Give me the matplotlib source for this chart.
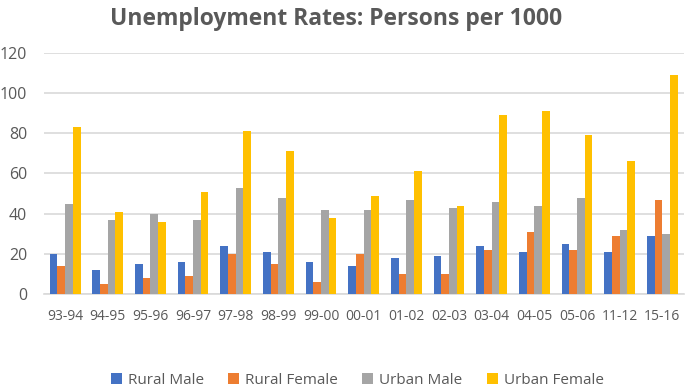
import matplotlib
matplotlib.use("Agg")
import matplotlib.pyplot as plt
import numpy as np

categories = ["93-94", "94-95", "95-96", "96-97", "97-98", "98-99", "99-00", "00-01",
              "01-02", "02-03", "03-04", "04-05", "05-06", "11-12", "15-16"]
rural_male = [20, 12, 15, 16, 24, 21, 16, 14, 18, 19, 24, 21, 25, 21, 29]
rural_female = [14, 5, 8, 9, 20, 15, 6, 20, 10, 10, 22, 31, 22, 29, 47]
urban_male = [45, 37, 40, 37, 53, 48, 42, 42, 47, 43, 46, 44, 48, 32, 30]
urban_female = [83, 41, 36, 51, 81, 71, 38, 49, 61, 44, 89, 91, 79, 66, 109]
series_names = ["Rural Male", "Rural Female", "Urban Male", "Urban Female"]
colors = ["#4472C4", "#ED7D31", "#A5A5A5", "#FFC000"]

plt.rcParams['font.family'] = ['Open Sans', 'DejaVu Sans']
fig = plt.figure(figsize=(6.85, 3.92), dpi=100)
ax = fig.add_axes([0.064, 0.25, 0.934, 0.615])

x = np.arange(len(categories))
bw = 0.18
for i, (vals, name, c) in enumerate(zip([rural_male, rural_female, urban_male, urban_female], series_names, colors)):
    ax.bar(x + (i - 1.5) * bw, vals, bw, color=c, label=name, zorder=3)

ax.set_xlim(-0.5, len(categories) - 0.5)
ax.set_ylim(0, 120)
ax.set_yticks(range(0, 121, 20))
ax.grid(axis='y', color='#D9D9D9', linewidth=1.2, zorder=0)
for s in ['top', 'right', 'left']:
    ax.spines[s].set_visible(False)
ax.spines['bottom'].set_color('#D9D9D9')
ax.spines['bottom'].set_linewidth(1.2)
ax.set_xticks(x)
ax.set_xticklabels(categories)
ax.tick_params(axis='x', length=0, labelsize=10, colors='#595959', pad=11)
ax.tick_params(axis='y', length=0, labelsize=11.5, colors='#595959', pad=12)

fig.suptitle("Unemployment Rates: Persons per 1000", x=0.49, y=0.982, fontsize=16.5,
             fontweight='bold', color='#595959')
ax.legend(loc='upper center', bbox_to_anchor=(0.49, -0.27), ncol=4, frameon=False,
          fontsize=11, handlelength=0.7, handleheight=0.7, columnspacing=1.6,
          handletextpad=0.4, labelcolor='#595959')

fig.savefig("out.png", dpi=100)
